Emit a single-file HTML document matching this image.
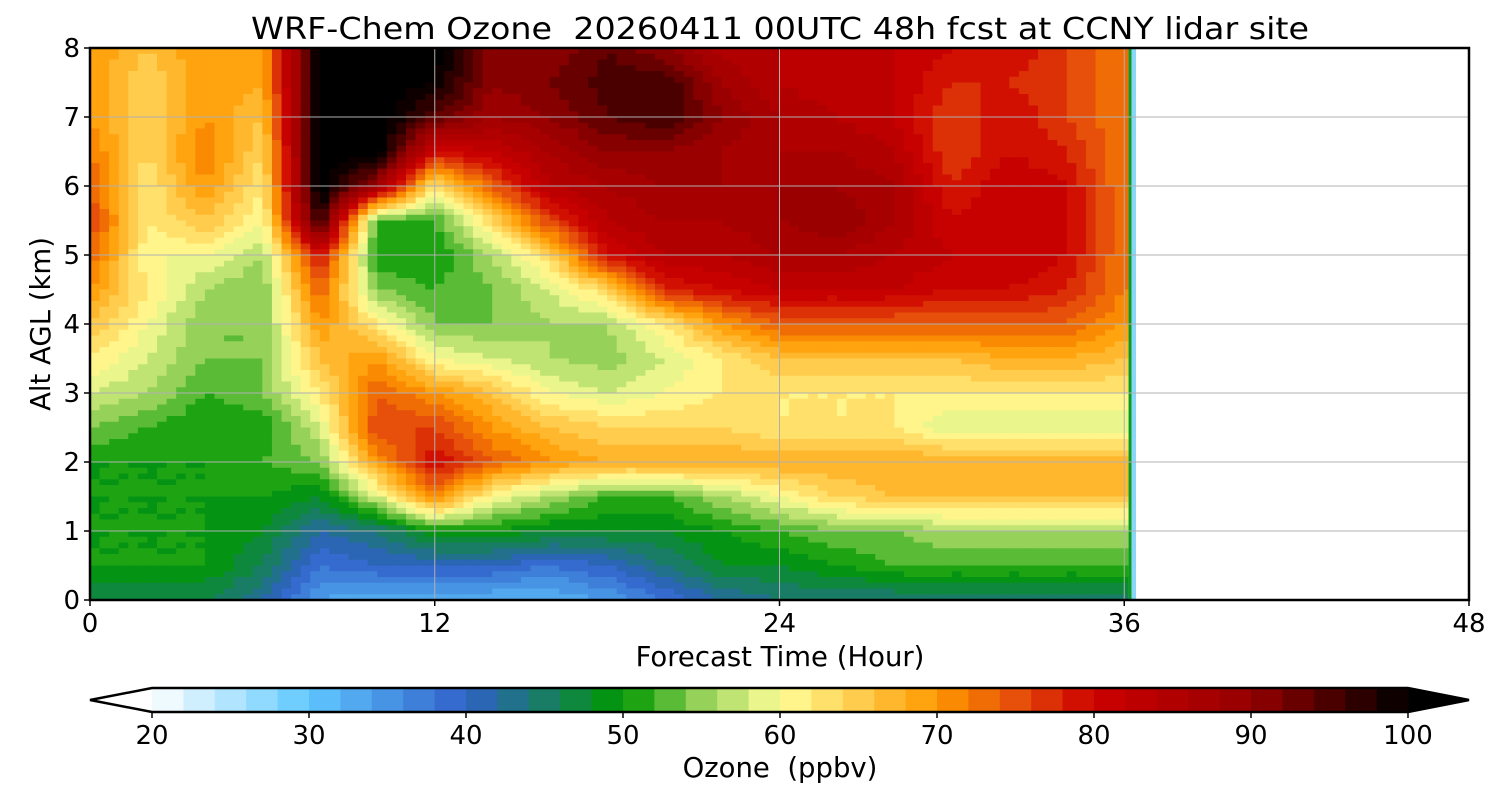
<!DOCTYPE html>
<html><head><meta charset="utf-8"><style>
body{margin:0;background:#fff;}
svg text{font-family:"DejaVu Sans","Liberation Sans",sans-serif;fill:#000;white-space:pre;}
</style></head><body>
<svg id="chart" width="1500" height="800" xmlns="http://www.w3.org/2000/svg">
<text x="780" y="39" font-size="30" text-anchor="middle" textLength="1058" lengthAdjust="spacingAndGlyphs">WRF-Chem Ozone  20260411 00UTC 48h fcst at CCNY lidar site</text>
<defs><clipPath id="dclip"><rect x="90" y="48" width="1046" height="552"/></clipPath></defs>
<g id="cells" clip-path="url(#dclip)"></g>
<g id="grid"></g>
<rect x="90" y="48" width="1379" height="552" fill="none" stroke="#000" stroke-width="2.5"/>
<g id="axes"></g>
<text x="780" y="666" font-size="27.5" text-anchor="middle">Forecast Time (Hour)</text>
<text transform="translate(50,324) rotate(-90)" font-size="27.5" text-anchor="middle">Alt AGL (km)</text>
<g id="cbar"></g>
<text x="780" y="777" font-size="27.5" text-anchor="middle">Ozone  (ppbv)</text>
</svg>
<script>
const times=[0,2,4,6,8,10,12,14,16,18,20,22,24,26,28,30,32,34,36];
const alts=[8,7.5,7,6.5,6,5.5,5,4.5,4,3.5,3,2.5,2,1.5,1,0.5,0];
const ozone=[
[70,66,70,68,102,102,102,90,90,94,90,85,84,84,82,80,80,76,72],
[70,64,70,68,102,102,100,90,92,95,96,88,84,82,82,78,78,76,72],
[70,64,70,66,102,102,94,88,90,94,96,90,86,84,82,76,80,76,72],
[72,64,72,64,102,102,80,82,86,90,90,88,86,86,84,76,80,78,72],
[74,62,70,62,102,88,62,74,84,86,88,88,88,88,86,78,82,80,72],
[76,62,66,60,98,52,52,64,76,84,86,86,88,90,86,80,82,80,72],
[74,60,60,56,80,50,50,56,64,80,84,84,86,86,84,82,82,80,72],
[70,62,56,54,74,54,52,54,58,64,78,80,82,82,82,80,80,78,72],
[66,60,54,54,70,62,54,54,56,56,62,70,74,74,74,74,74,74,70],
[62,58,54,54,66,70,60,58,56,55,58,62,66,66,66,66,68,68,66],
[58,56,52,54,62,74,70,66,60,58,60,62,62,62,62,62,62,62,62],
[54,52,50,50,58,76,76,70,66,64,64,64,62,62,62,58,58,58,58],
[50,50,50,52,54,70,80,74,70,68,68,68,68,68,68,68,68,68,68],
[50,50,50,50,48,58,72,60,56,52,52,56,60,64,66,66,66,66,66],
[50,50,50,48,42,44,50,50,48,48,48,50,52,54,54,56,56,56,56],
[50,50,50,46,38,40,40,40,38,40,44,48,48,50,52,52,52,52,52],
[46,46,46,42,34,32,32,32,32,34,38,42,44,44,44,44,44,44,44]];
const xTicks=[0,12,24,36,48];
const yTicks=[0,1,2,3,4,5,6,7,8];
const cbTicks=[20,30,40,50,60,70,80,90,100];
const stops=[[20,[255,255,255]],[30,[96,200,255]],[40,[48,96,200]],[50,[0,153,0]],[55,[150,210,90]],[60,[255,255,153]],[70,[255,153,0]],[75,[230,80,10]],[80,[204,0,0]],[90,[150,0,0]],[100,[0,0,0]]];
function color(v){
  v=Math.floor(v/2)*2+1;
  if(v<=20)return 'rgb(255,255,255)'; if(v>=100)return 'rgb(0,0,0)';
  for(let i=0;i<stops.length-1;i++){const a=stops[i],b=stops[i+1];
    if(v>=a[0]&&v<=b[0]){const f=(v-a[0])/(b[0]-a[0]);
      return 'rgb('+a[1].map((c,k)=>Math.round(c+(b[1][k]-c)*f)).join(',')+')';}}
}
const X=t=>90+t*1379/48, Y=a=>600-a*552/8;
const NS="http://www.w3.org/2000/svg";
function mk(tag,attrs,parent){const e=document.createElementNS(NS,tag);for(const k in attrs)e.setAttribute(k,attrs[k]);parent.appendChild(e);return e;}
const cells=document.getElementById('cells');
const sub=6;
for(let r=0;r<alts.length-1;r++){for(let c=0;c<times.length-1;c++){
  for(let i=0;i<sub;i++){for(let j=0;j<sub;j++){
    const fx=(i+0.5)/sub, fy=(j+0.5)/sub;
    const v=ozone[r][c]*(1-fx)*(1-fy)+ozone[r][c+1]*fx*(1-fy)+ozone[r+1][c]*(1-fx)*fy+ozone[r+1][c+1]*fx*fy;
    const t0=times[c]+(times[c+1]-times[c])*i/sub, t1=times[c]+(times[c+1]-times[c])*(i+1)/sub;
    const a0=alts[r]+(alts[r+1]-alts[r])*j/sub, a1=alts[r]+(alts[r+1]-alts[r])*(j+1)/sub;
    const el=mk('rect',{x:X(t0),y:Y(a0),width:X(t1)-X(t0)+0.6,height:Y(a1)-Y(a0)+0.6,fill:color(v)},cells);
    
    
  }}
}}
for(let r=0;r<alts.length-1;r++){
  for(let j=0;j<sub;j++){const fy=(j+0.5)/sub;
    const v=ozone[r][times.length-1]*(1-fy)+ozone[r+1][times.length-1]*fy;
    const a0=alts[r]+(alts[r+1]-alts[r])*j/sub, a1=alts[r]+(alts[r+1]-alts[r])*(j+1)/sub;
    const el=mk('rect',{x:X(36),y:Y(a0),width:X(36.15)-X(36),height:Y(a1)-Y(a0)+0.6,fill:color(v)},cells);
    
    
  }
}
const edge=mk('rect',{x:X(36.15),y:48,width:3,height:552,fill:'#0a9a20'},cells);


const edge2=mk('rect',{x:X(36.15)+3,y:48,width:5,height:552,fill:'#8ad6f8'},cells);


const grid=document.getElementById('grid'), axes=document.getElementById('axes');
xTicks.forEach(t=>{
  if(t>0&&t<48){const l=mk('line',{x1:X(t),x2:X(t),y1:48,y2:600,stroke:'#b0b0b0','stroke-width':1},grid);
    }
  const tk=mk('line',{x1:X(t),x2:X(t),y1:600,y2:606,stroke:'#000','stroke-width':1.5},axes);
  
  const tx=mk('text',{x:X(t),y:632,'font-size':26,'text-anchor':'middle'},axes);tx.textContent=t;
  
});
yTicks.forEach(a=>{
  if(a>0&&a<8){const l=mk('line',{x1:90,x2:1469,y1:Y(a),y2:Y(a),stroke:'#b0b0b0','stroke-width':1},grid);
    }
  const tk=mk('line',{x1:84,x2:90,y1:Y(a),y2:Y(a),stroke:'#000','stroke-width':1.5},axes);
  
  const tx=mk('text',{x:80,y:Y(a)+9,'font-size':26,'text-anchor':'end'},axes);tx.textContent=a;
  
});
const cb=document.getElementById('cbar');
const CX=v=>152+(v-20)*(1408-152)/80, cy0=688, cy1=712;
const lo=mk('polygon',{points:`152,${cy0} 90,${(cy0+cy1)/2} 152,${cy1}`,fill:'#fff'},cb);

const hi=mk('polygon',{points:`1408,${cy0} 1469,${(cy0+cy1)/2} 1408,${cy1}`,fill:'#000'},cb);

for(let v=20;v<100;v+=2){
  const r=mk('rect',{x:CX(v),y:cy0,width:CX(v+2)-CX(v)+0.5,height:cy1-cy0,fill:color(v)},cb);
  
}
const ol=mk('polygon',{points:`90,${(cy0+cy1)/2} 152,${cy0} 1408,${cy0} 1469,${(cy0+cy1)/2} 1408,${cy1} 152,${cy1}`,fill:'none',stroke:'#000','stroke-width':2.5},cb);

cbTicks.forEach(v=>{
  const tk=mk('line',{x1:CX(v),x2:CX(v),y1:cy1,y2:cy1+6,stroke:'#000','stroke-width':1.5},cb);
  
  const tx=mk('text',{x:CX(v),y:744,'font-size':26,'text-anchor':'middle'},cb);tx.textContent=v;
  
});
</script>
</body></html>
